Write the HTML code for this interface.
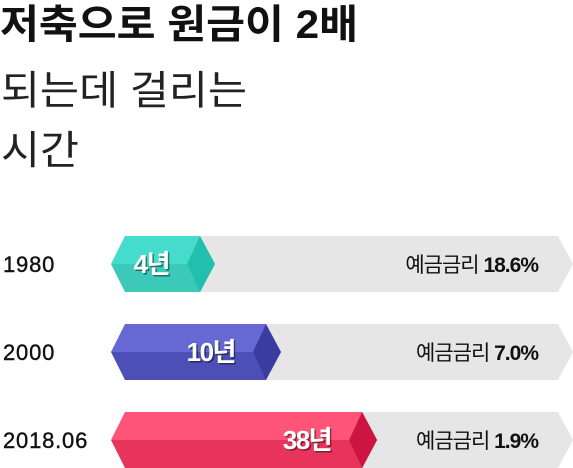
<!DOCTYPE html>
<html><head><meta charset="utf-8"><style>
html,body{margin:0;padding:0;background:#fff;width:573px;height:468px;overflow:hidden}
svg{display:block}
text{font-family:"Liberation Sans","Noto Sans CJK KR",sans-serif}
</style></head><body>
<svg id="chart" width="573" height="468" viewBox="0 0 573 468">
<text x="0" y="38" font-size="40" font-weight="bold" textLength="358" lengthAdjust="spacingAndGlyphs" fill="#111">저축으로 원금이 2배</text>
<text x="1" y="104" font-size="40" textLength="246" lengthAdjust="spacingAndGlyphs" fill="#222">되는데 걸리는</text>
<text x="1" y="164" font-size="40" textLength="78" lengthAdjust="spacingAndGlyphs" fill="#222">시간</text>
<g id="bars"></g>
</svg>
<script>
const categories = ["1980", "2000", "2018.06"];
const years = [4, 10, 38];
const rates = ["18.6%", "7.0%", "1.9%"];
const palette = [
  {top:"#46dccb", bot:"#3cc9b7", cap:"#22bfae"},
  {top:"#6669d3", bot:"#4c4fb5", cap:"#3a3d9f"},
  {top:"#fe5477", bot:"#e8335b", cap:"#cc1540"}
];
const NS = "http://www.w3.org/2000/svg";
const g = document.getElementById("bars");
const x0 = 111, rowTop0 = 236, rowStep = 88, h = 56, grayEnd = 573;
function xTip(v){ return 215 + 72 * (Math.log(v) - Math.log(4)); }
function mk(tag, attrs){ const e = document.createElementNS(NS, tag); for (const k in attrs) e.setAttribute(k, attrs[k]); g.appendChild(e); return e; }
categories.forEach((cat, i) => {
  const y = rowTop0 + i * rowStep, m = y + h/2, b = y + h;
  const tip = xTip(years[i]), e = tip - 15;
  const c = palette[i];
  const bg = mk("polygon", {points:`${x0},${m} ${x0+14},${y} ${grayEnd-15},${y} ${grayEnd},${m} ${grayEnd-15},${b} ${x0+14},${b}`, fill:"#e6e6e6"});
  
  
  const top = mk("polygon", {points:`${x0},${m} ${x0+14},${y} ${e},${y} ${tip},${m}`, fill:c.top});
  
  
  const bot = mk("polygon", {points:`${x0},${m} ${tip},${m} ${e},${b} ${x0+14},${b}`, fill:c.bot});
  
  
  const cap = mk("polygon", {points:`${e-13},${m} ${e},${y} ${tip},${m} ${e},${b}`, fill:c.cap});
  
  
  const yl = mk("text", {x:3, y:m+8, "font-size":"22", "letter-spacing":"0.8", stroke:"#111", "stroke-width":"0.4", fill:"#111"});
  yl.textContent = cat;
  
  
  const sh = mk("text", {x:tip-46+1.5, y:m+10.5, "font-size":"26", "font-weight":"bold", fill:"rgba(0,0,0,0.45)", "text-anchor":"end", "letter-spacing":"-1.5"});
  sh.textContent = years[i] + "년";
  
  
  const vl = mk("text", {x:tip-46, y:m+9, "font-size":"26", "font-weight":"bold", fill:"#fff", "text-anchor":"end", "letter-spacing":"-1.5"});
  vl.textContent = years[i] + "년";
  
  
  const rl = mk("text", {x:538, y:m+8, "font-size":"21", fill:"#111", "text-anchor":"end", "letter-spacing":"-1"});
  const t1 = document.createElementNS(NS, "tspan"); t1.textContent = "예금금리 "; rl.appendChild(t1);
  const t2 = document.createElementNS(NS, "tspan"); t2.setAttribute("font-weight","bold"); t2.textContent = rates[i]; rl.appendChild(t2);
  
  
});
</script>
</body></html>
